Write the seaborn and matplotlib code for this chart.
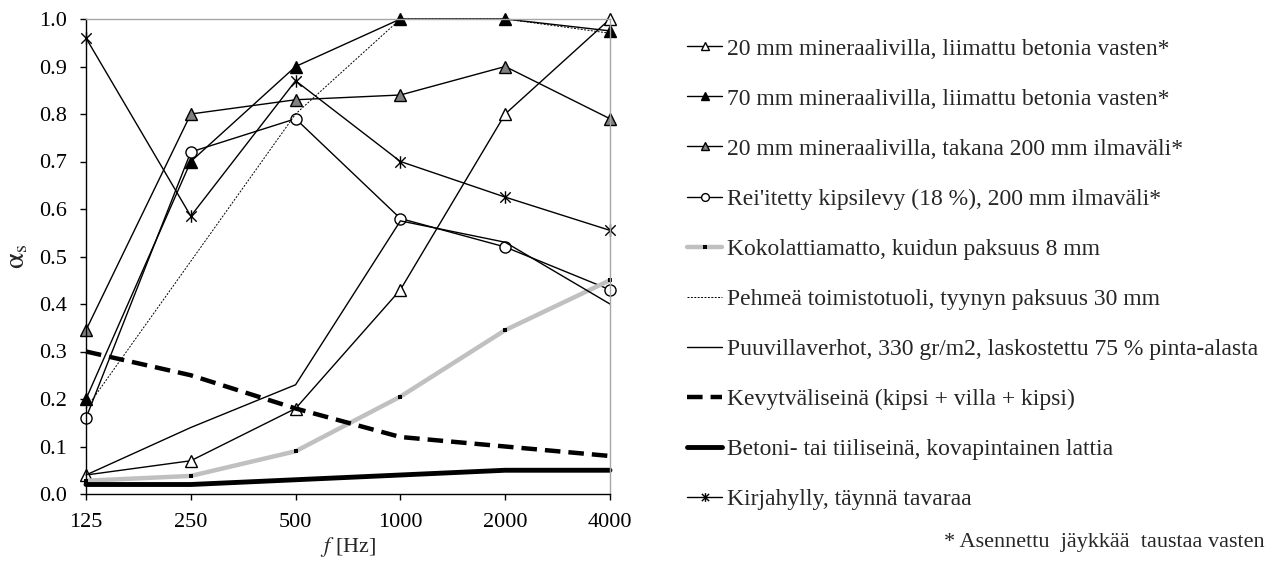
import numpy as np
import pandas as pd
import matplotlib
matplotlib.use("Agg")
import matplotlib.pyplot as plt
from matplotlib.path import Path
import seaborn as sns

freqs = [125, 250, 500, 1000, 2000, 4000]
freq_labels = ["125", "250", "500", "1000", "2000", "4000"]

mw20_glued = [0.04, 0.07, 0.18, 0.43, 0.80, 1.00]
mw70_glued = [0.20, 0.70, 0.90, 1.00, 1.00, 0.975]
mw20_air = [0.345, 0.80, 0.83, 0.84, 0.90, 0.79]
perf_gypsum = [0.16, 0.72, 0.79, 0.58, 0.52, 0.43]
carpet = [0.028, 0.038, 0.09, 0.205, 0.345, 0.45]
office_chair = [0.18, 0.49, 0.80, 1.00, 1.00, 0.97]
curtains = [0.04, 0.14, 0.23, 0.575, 0.53, 0.40]
light_wall = [0.30, 0.25, 0.18, 0.12, 0.10, 0.08]
concrete = [0.02, 0.02, 0.03, 0.04, 0.05, 0.05]
bookshelf = [0.96, 0.585, 0.87, 0.70, 0.625, 0.555]

labels = [
    "20 mm mineraalivilla, liimattu betonia vasten*",
    "70 mm mineraalivilla, liimattu betonia vasten*",
    "20 mm mineraalivilla, takana 200 mm ilmaväli*",
    "Rei'itetty kipsilevy (18 %), 200 mm ilmaväli*",
    "Kokolattiamatto, kuidun paksuus 8 mm",
    "Pehmeä toimistotuoli, tyynyn paksuus 30 mm",
    "Puuvillaverhot, 330 gr/m2, laskostettu 75 % pinta-alasta",
    "Kevytväliseinä (kipsi + villa + kipsi)",
    "Betoni- tai tiiliseinä, kovapintainen lattia",
    "Kirjahylly, täynnä tavaraa",
]
series = [mw20_glued, mw70_glued, mw20_air, perf_gypsum, carpet,
          office_chair, curtains, light_wall, concrete, bookshelf]

sns.set_theme(style="white")
plt.rcParams["font.family"] = ["Liberation Serif", "DejaVu Serif"]
plt.rcParams["mathtext.fontset"] = "stix"

star = Path([(-1, -1), (1, 1), (-1, 1), (1, -1), (0, -1.2), (0, 1.2)],
            [Path.MOVETO, Path.LINETO, Path.MOVETO, Path.LINETO, Path.MOVETO, Path.LINETO])

styles = [
    dict(color="black", lw=1, marker="^", ms=8, mfc="white", mec="black", mew=1),
    dict(color="black", lw=1, marker="^", ms=8, mfc="black", mec="black", mew=1),
    dict(color="black", lw=1, marker="^", ms=8, mfc="#808080", mec="black", mew=1),
    dict(color="black", lw=1, marker="o", ms=8, mfc="white", mec="black", mew=1),
    dict(color="#c0c0c0", lw=3.2, marker="s", ms=3.5, mfc="black", mec="black", mew=0),
    dict(color="black", lw=0.7, ls=(0, (2, 1.5))),
    dict(color="black", lw=1),
    dict(color="black", lw=3.2, ls=(0, (3.5, 1.8))),
    dict(color="black", lw=3.5),
    dict(color="black", lw=1, marker=star, ms=9, mfc="none", mec="black", mew=1),
]

fig = plt.figure(figsize=(12.71, 5.61), dpi=100)
W, H = 1271, 561
ax = fig.add_axes([86 / W, 1 - 494 / H, (610 - 86) / W, (494 - 19) / H])

for lab, vals, st in zip(labels, series, styles):
    df = pd.DataFrame({"f": freqs, "a": vals})
    sns.lineplot(data=df, x="f", y="a", ax=ax, label=lab, clip_on=False,
                 estimator=None, sort=False, **st)

ax.set_xscale("log", base=2)
ax.set_xlim(125, 4000)
ax.set_ylim(0, 1.0)
ax.set_xticks(freqs)
ax.set_xticklabels(freq_labels)
ax.xaxis.set_minor_locator(matplotlib.ticker.NullLocator())
ax.set_yticks(np.round(np.arange(0, 1.01, 0.1), 1))
ax.set_yticklabels([f"{v:.1f}" for v in np.arange(0, 1.01, 0.1)])
ax.tick_params(axis="both", labelsize=16, colors="black", direction="out",
               length=4.5, width=1, left=True, bottom=True, pad=9)

for side in ["left", "bottom"]:
    ax.spines[side].set_color("black")
    ax.spines[side].set_linewidth(1)
for side in ["top", "right"]:
    ax.spines[side].set_color("#a6a6a6")
    ax.spines[side].set_linewidth(1)

ax.set_xlabel("$f$ [Hz]", fontsize=16, labelpad=2)
ax.set_ylabel(r"$\mathrm{α}_{\mathrm{s}}$", fontsize=21, labelpad=7)

handles, labs = ax.get_legend_handles_labels()
ax.get_legend().remove()
fig.legend(handles, labs, loc="upper left", bbox_to_anchor=(687 / W, 1 - 38 / H),
           frameon=False, fontsize=17, handlelength=1.5, handletextpad=0.2,
           labelspacing=1.21, borderaxespad=0, borderpad=0, markerscale=0.7)

fig.text(1265 / W, 1 - 543 / H, "* Asennettu  jäykkää  taustaa vasten",
         ha="right", va="center", fontsize=16)

fig.savefig("out.png", dpi=100)
